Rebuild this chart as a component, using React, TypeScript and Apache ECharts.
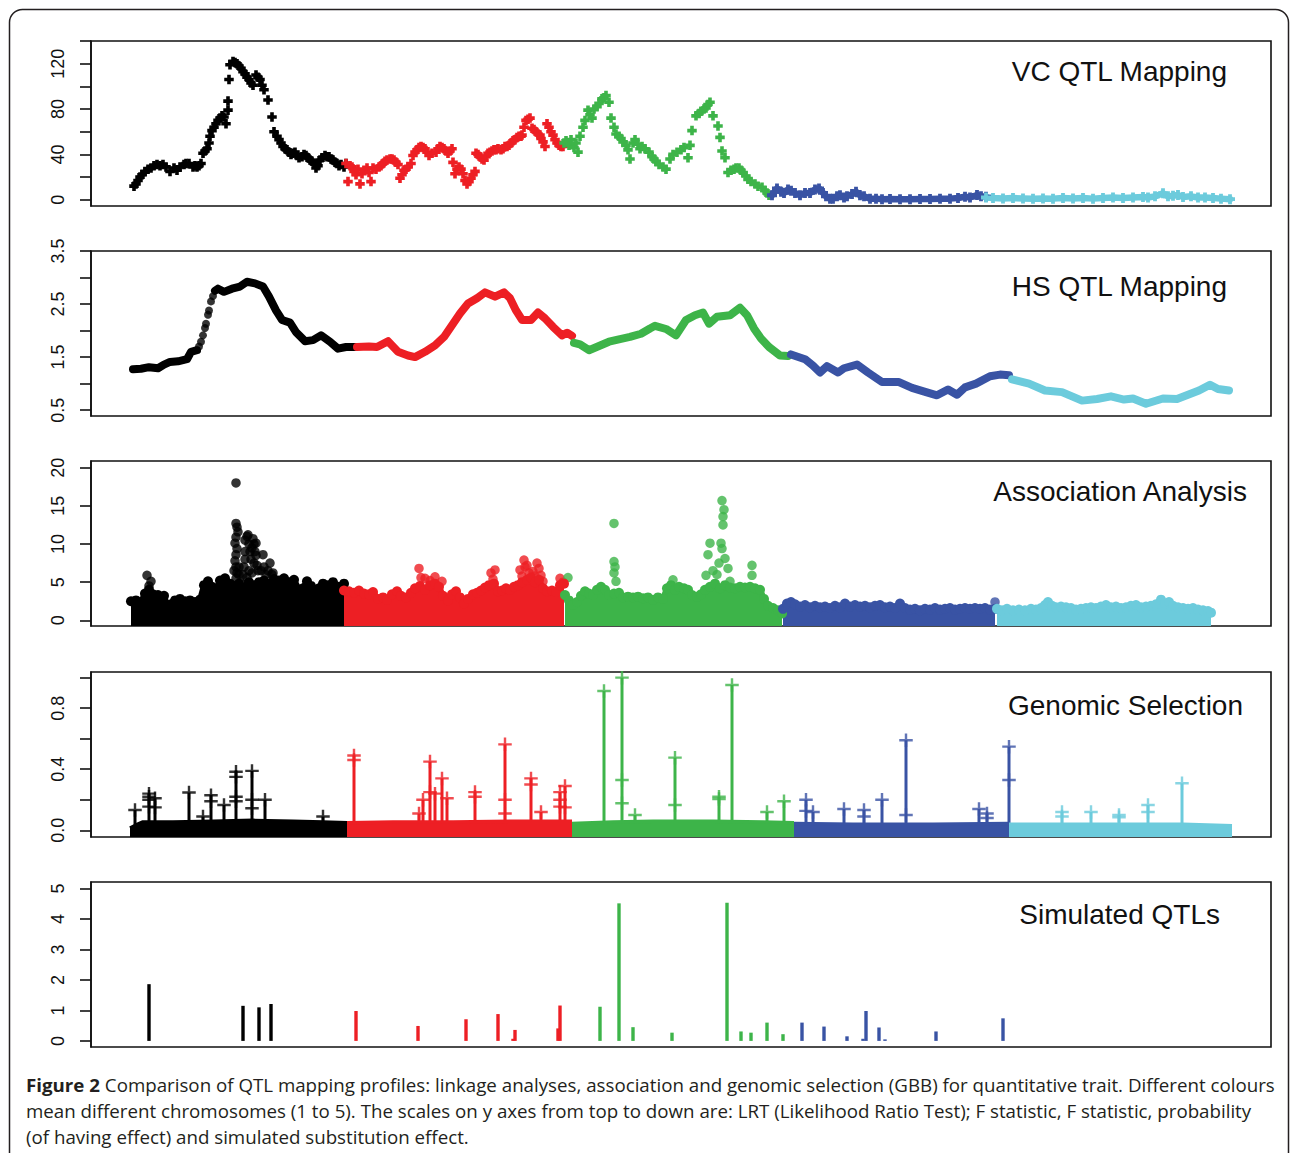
import React, { useEffect, useRef } from 'react';
import * as echarts from 'echarts';

// ---------- colours per chromosome ----------
const CHR_COLORS = ['#000000', '#ed1f24', '#3db449', '#3953a4', '#6ccbdc'];

// ---------- panel titles ----------
const PANEL_TITLES = ['VC QTL Mapping', 'HS QTL Mapping', 'Association Analysis', 'Genomic Selection', 'Simulated QTLs'];

// ---------- y-axis ticks / labels ----------
const Y_TICKS = [
  [0, 20, 40, 60, 80, 100, 120, 140],
  [0.5, 1, 1.5, 2, 2.5, 3, 3.5],
  [0, 5, 10, 15, 20],
  [0, 0.2, 0.4, 0.6, 0.8, 1.0],
  [0, 1, 2, 3, 4, 5],
];
const Y_LABELS = [
  [0, 40, 80, 120],
  [0.5, 1.5, 2.5, 3.5],
  [0, 5, 10, 15, 20],
  [0, 0.4, 0.8],
  [0, 1, 2, 3, 4, 5],
];
const Y_RANGES = [
  [-5.5, 140],
  [0.39, 3.5],
  [-0.75, 20.88],
  [-0.044, 1.037],
  [-0.2, 5.21],
];
const Y_DECIMALS = [0, 1, 0, 1, 0];

// ---------- VC QTL mapping (LRT), [position, LRT] ----------
const vcChr1 = [[1,12],[3,14],[5,17],[7,20],[9,22],[12,25],[15,27],[18,28],[21,30],[24,31],[27,30],[30,31],[33,29],[37,25],[41,28],[44,26],[47,29],[51,31],[53,32],[56,32],[60,29],[62,30],[64,29],[66,30],[68,32],[70,41],[72,43],[74,45],[76,50],[77,56],[79,61],[81,64],[83,67],[85,70],[87,72],[89,74],[91,73],[93,67],[95,79],[95,87],[96,106],[97,119],[100,122],[102,121],[104,120],[106,118],[108,116],[110,113],[112,111],[114,108],[116,106],[118,103],[120,101],[123,110],[125,108],[127,106],[129,101],[131,97],[135,88],[139,73],[141,60],[144,56],[146,53],[148,50],[150,47],[152,45],[154,44],[156,42],[158,40],[160,41],[162,42],[164,39],[166,37],[169,38],[171,40],[173,39],[175,37],[177,35],[179,34],[181,32],[183,28],[185,30],[187,35],[189,37],[192,39],[194,38],[196,38],[198,36],[200,35],[202,33],[204,32],[206,30],[208,31],[211,29],[213,32]];
const vcChr2 = [[213,32],[215,16],[217,30],[219,29],[221,25],[223,22],[225,27],[227,14],[229,23],[231,26],[234,28],[236,24],[238,16],[240,28],[243,27],[246,29],[248,30],[250,32],[252,34],[254,35],[257,36],[259,36],[261,35],[263,33],[265,31],[267,19],[269,22],[271,26],[273,27],[275,29],[278,32],[280,39],[282,42],[284,44],[286,46],[288,47],[290,46],[292,45],[294,42],[296,39],[299,41],[303,42],[305,45],[307,47],[309,46],[311,45],[313,43],[315,41],[317,43],[319,45],[320,33],[322,23],[324,27],[326,29],[328,27],[330,23],[332,17],[334,14],[336,16],[338,19],[340,22],[342,25],[343,41],[345,40],[347,38],[349,36],[351,35],[353,38],[355,41],[357,42],[359,43],[361,44],[363,44],[365,45],[368,44],[370,45],[372,47],[374,47],[376,48],[378,50],[380,52],[382,53],[384,55],[386,56],[388,56],[389,57],[391,64],[393,70],[395,71],[397,72],[399,63],[401,62],[403,60],[405,58],[407,57],[408,54],[410,51],[412,47],[414,67],[416,64],[418,60],[420,57],[422,53],[424,50],[426,48],[428,47],[430,47]];
const vcChr3 = [[431,50],[433,52],[436,48],[438,53],[441,46],[443,50],[445,42],[447,56],[450,64],[452,70],[455,79],[457,75],[459,72],[461,80],[464,82],[466,85],[469,89],[471,90],[473,92],[476,86],[478,72],[481,64],[483,58],[486,56],[488,54],[490,51],[493,48],[495,44],[497,36],[500,50],[502,53],[505,49],[507,45],[509,47],[512,45],[516,42],[519,38],[521,36],[523,34],[526,31],[530,29],[533,27],[537,36],[540,40],[544,42],[548,44],[551,46],[555,37],[557,48],[559,61],[563,74],[566,76],[568,78],[571,80],[573,81],[575,84],[577,86],[580,74],[585,65],[587,55],[589,43],[592,37],[595,24],[598,26],[601,27],[603,28],[606,28],[608,26],[610,24],[613,21],[615,18],[618,16],[622,14],[625,12],[629,11],[632,8],[634,6],[636,4]];
const vcChr4 = [[639,4],[644,10],[648,7],[651,6],[655,9],[658,8],[662,6],[667,4],[672,6],[677,6],[682,9],[686,10],[690,6],[693,3],[697,1],[700,1],[704,3],[707,4],[711,2],[714,3],[719,5],[723,7],[727,4],[731,3],[737,1],[743,1],[749,0.5],[757,0.6],[767,0.5],[777,0.5],[787,0.6],[797,0.6],[807,0.8],[817,1],[825,1.5],[832,2.7],[837,2],[844,4.2],[848,3],[853,2.7]];
const vcChr5 = [[853,2],[860,1.5],[870,1.2],[880,1.5],[890,1.2],[900,1],[910,1.2],[920,1],[930,1.5],[940,1.2],[950,1.5],[960,1],[970,1.5],[980,2],[990,1.5],[1000,2],[1010,2.5],[1015,2],[1022,3],[1030,5.7],[1035,3],[1040,3.5],[1045,4.2],[1050,2.5],[1058,3],[1065,2],[1072,2],[1080,1.5],[1088,1],[1097,0.5]];

// ---------- HS QTL mapping (F statistic) ----------
const hsChr1a = [[0,1.27],[8,1.28],[16,1.31],[25,1.29],[31,1.36],[37,1.41],[45,1.42],[54,1.46],[58,1.6],[64,1.63]];
const hsChr1Dots = [[66,1.7],[68,1.79],[70,1.91],[72,2.05],[73,2.13],[75,2.3],[76,2.38],[78,2.55],[80,2.65]];
const hsChr1b = [[82,2.75],[85,2.79],[91,2.73],[99,2.79],[107,2.83],[114,2.92],[122,2.89],[130,2.83],[136,2.64],[143,2.38],[149,2.2],[157,2.15],[163,1.97],[172,1.8],[180,1.82],[188,1.91],[197,1.79],[205,1.66],[213,1.69],[222,1.69]];
const hsChr2 = [[224,1.69],[236,1.7],[244,1.69],[255,1.8],[265,1.6],[275,1.53],[282,1.5],[292,1.6],[302,1.72],[311,1.88],[319,2.1],[327,2.32],[335,2.51],[344,2.61],[352,2.72],[362,2.64],[371,2.72],[377,2.61],[383,2.38],[389,2.2],[398,2.2],[405,2.34],[412,2.23],[420,2.07],[429,1.91],[434,1.96],[439,1.9]];
const hsChr3 = [[441,1.77],[447,1.74],[456,1.63],[466,1.71],[476,1.79],[487,1.84],[497,1.88],[508,1.94],[517,2.04],[522,2.09],[533,2.03],[543,1.91],[553,2.2],[562,2.29],[570,2.34],[576,2.13],[584,2.26],[597,2.29],[607,2.43],[614,2.29],[621,2.04],[628,1.85],[636,1.69],[647,1.53],[655,1.52]];
const hsChr4 = [[658,1.55],[672,1.46],[680,1.34],[687,1.21],[694,1.33],[705,1.21],[711,1.29],[724,1.36],[735,1.21],[749,1.03],[766,1.03],[779,0.92],[793,0.84],[804,0.78],[815,0.89],[824,0.79],[832,0.93],[843,1.0],[857,1.14],[867,1.17],[876,1.16]];
const hsChr5 = [[879,1.08],[896,1.0],[912,0.87],[929,0.84],[949,0.68],[964,0.71],[978,0.76],[991,0.7],[1000,0.72],[1013,0.62],[1030,0.72],[1044,0.71],[1066,0.87],[1077,0.98],[1085,0.9],[1096,0.87]];

// ---------- Association analysis (F statistic) ----------
// upper envelope of the dense marker cloud, per chromosome
const asEnv1 = [[-2,2.5],[3,2.6],[8,2.4],[12,3.5],[16,4.0],[20,3.4],[25,3.3],[31,3.2],[34,2.0],[38,2.1],[42,2.6],[47,2.8],[52,2.5],[57,2.6],[62,2.4],[67,2.7],[71,4.6],[75,5.1],[79,4.4],[83,4.0],[87,5.2],[92,5.5],[97,4.8],[101,4.5],[106,4.8],[111,4.2],[116,5.0],[121,4.6],[126,5.0],[131,5.2],[136,4.8],[141,5.4],[146,5.2],[151,5.5],[156,5.0],[161,5.3],[166,4.0],[170,4.2],[174,5.1],[178,4.5],[182,3.6],[186,4.2],[190,4.8],[195,4.6],[200,5.0],[205,4.4],[211,4.8]];
const asEnv2 = [[211,3.9],[216,3.8],[221,3.6],[226,3.9],[231,3.5],[236,3.4],[240,3.7],[245,2.8],[250,3.0],[254,2.7],[259,3.4],[264,3.8],[268,3.2],[273,3.0],[278,3.6],[282,4.2],[287,4.5],[292,4.0],[297,4.6],[302,4.8],[306,4.4],[310,3.2],[315,2.6],[319,3.4],[323,3.8],[327,3.0],[331,2.2],[335,2.8],[340,3.4],[344,3.6],[348,3.9],[352,4.3],[356,4.6],[361,4.8],[365,3.8],[369,3.9],[373,4.2],[377,4.0],[381,4.4],[385,4.6],[389,5.0],[394,5.3],[398,5.6],[402,5.0],[406,5.3],[410,4.2],[414,3.8],[419,3.9],[423,3.7],[427,4.6],[431,4.8]];
const asEnv3 = [[432,3.3],[436,2.6],[440,2.0],[444,2.4],[448,3.2],[452,3.8],[456,3.5],[460,3.3],[464,4.0],[468,4.4],[472,4.0],[476,3.3],[481,3.5],[486,3.6],[490,3.0],[495,3.1],[500,3.0],[505,3.1],[510,2.9],[515,3.0],[520,2.7],[525,3.0],[530,2.8],[534,4.2],[538,4.6],[542,4.0],[546,4.4],[551,4.2],[555,4.0],[559,3.3],[564,3.1],[568,3.4],[572,4.0],[577,4.4],[582,4.8],[587,4.2],[592,4.6],[597,4.3],[602,4.2],[607,4.4],[612,4.3],[617,4.4],[622,4.2],[627,4.0],[631,2.8],[635,1.9],[640,1.6],[645,1.3],[649,0.9]];
const asEnv4 = [[650,1.5],[654,2.2],[658,2.4],[662,2.1],[667,1.8],[672,2.0],[677,1.7],[682,1.9],[687,1.7],[692,1.8],[697,1.6],[702,1.9],[707,1.7],[712,2.2],[717,1.8],[722,2.0],[727,1.8],[732,1.9],[737,1.7],[742,1.9],[747,2.0],[752,1.7],[757,1.8],[762,1.6],[767,2.2],[772,1.6],[777,1.4],[782,1.5],[787,1.3],[792,1.5],[797,1.4],[802,1.6],[807,1.4],[812,1.5],[817,1.6],[822,1.4],[827,1.5],[832,1.6],[837,1.5],[842,1.6],[847,1.5],[852,1.6],[857,1.4],[862,1.5]];
const asEnv5 = [[864,1.5],[869,1.3],[874,1.5],[880,1.3],[886,1.4],[892,1.3],[898,1.5],[903,1.4],[908,1.6],[912,2.0],[915,2.4],[919,1.9],[923,1.7],[928,1.8],[933,1.7],[938,1.6],[943,1.4],[948,1.5],[953,1.6],[958,1.7],[963,1.6],[968,1.8],[973,2.0],[978,1.7],[983,1.8],[988,1.6],[993,1.7],[998,1.9],[1003,2.0],[1008,1.7],[1013,1.8],[1018,1.9],[1023,2.1],[1028,2.7],[1032,2.2],[1036,2.4],[1040,1.9],[1045,1.7],[1050,1.6],[1055,1.5],[1060,1.6],[1065,1.4],[1070,1.3],[1075,1.2],[1078,1.0]];
// markers standing out above the cloud
const asTop1 = [[14,5.9],[18,5.1],[16,4.5],[103,18],[103,12.7],[104,12.2],[105,11.6],[103,10.9],[102,10.1],[104,9.4],[103,8.6],[102,7.8],[103,7.0],[104,6.2],[103,5.5],[101,6.5],[106,6.0],[106,7.0],[108,4.9],[110,6.0],[111,7.0],[112,8.0],[112,9.0],[112,10.5],[114,11.0],[115,11.2],[116,10.0],[117,9.0],[118,8.0],[119,9.5],[120,10.7],[121,10.0],[122,9.0],[123,10.1],[123,8.5],[124,7.2],[125,6.5],[116,6.5],[119,6.2],[121,7.5],[114,5.6],[128,6.5],[130,8.6],[131,7.0],[133,6.0],[135,6.5],[137,7.5],[139,6.0],[140,6.2]];
const asTop2 = [[286,6.8],[288,5.6],[292,5.5],[297,5.2],[302,5.7],[309,5.1],[358,6.2],[360,5.4],[362,6.6],[387,6.6],[389,5.8],[391,7.9],[392,7.0],[394,7.2],[396,6.2],[400,6.4],[402,5.8],[404,7.5],[406,6.8],[408,5.9],[410,5.1],[427,5.5],[430,5.0]];
const asTop3 = [[435,5.6],[481,12.7],[481,7.7],[482,7.0],[481,6.2],[483,5.1],[540,5.3],[573,5.9],[575,8.6],[577,10.1],[580,6.5],[584,6.0],[586,7.5],[588,10.1],[589,9.4],[590,12.5],[590,13.6],[591,14.5],[589,15.7],[592,8.1],[595,6.8],[597,5.1],[619,7.2],[619,5.9]];
const asTop4 = [[862,2.4]];
const asTop5: number[][] = [];

// ---------- Genomic selection (probability) ----------
const gsBand1 = [[-3,0.015],[3,0.035],[10,0.055],[40,0.055],[80,0.06],[120,0.065],[160,0.06],[190,0.055],[214,0.05]];
const gsBand2 = [[214,0.05],[260,0.055],[320,0.055],[380,0.06],[439,0.06]];
const gsBand3 = [[439,0.045],[480,0.055],[520,0.06],[580,0.06],[630,0.055],[661,0.05]];
const gsBand4 = [[661,0.045],[720,0.04],[800,0.04],[876,0.045]];
const gsBand5 = [[876,0.04],[950,0.04],[1050,0.04],[1099,0.03]];
const gsStem1 = [[2,0.133],[16,0.24],[22,0.21],[56,0.247],[70,0.09],[78,0.23],[91,0.166],[103,0.389],[119,0.389],[132,0.2],[190,0.09]];
const gsStem2 = [[221,0.49],[286,0.11],[290,0.2],[297,0.45],[302,0.25],[309,0.34],[314,0.21],[342,0.25],[372,0.563],[398,0.34],[408,0.12],[427,0.25],[432,0.29]];
const gsStem3 = [[471,0.912],[489,1.0],[502,0.1],[542,0.476],[586,0.22],[599,0.952],[634,0.12],[651,0.19]];
const gsStem4 = [[673,0.2],[680,0.12],[711,0.14],[731,0.133],[749,0.2],[773,0.59],[846,0.14],[854,0.11],[876,0.548]];
const gsStem5 = [[929,0.12],[958,0.12],[986,0.1],[1015,0.166],[1049,0.308]];
const gsPlus1 = [[2,0.133],[16,0.24],[16,0.22],[16,0.2],[16,0.155],[22,0.21],[22,0.15],[56,0.247],[70,0.09],[78,0.23],[78,0.19],[91,0.166],[103,0.384],[103,0.35],[103,0.22],[103,0.19],[119,0.389],[119,0.2],[119,0.144],[132,0.2],[190,0.09]];
const gsPlus2 = [[221,0.49],[221,0.46],[286,0.11],[290,0.2],[297,0.45],[297,0.25],[302,0.24],[309,0.34],[314,0.21],[342,0.25],[342,0.22],[372,0.563],[372,0.2],[372,0.11],[398,0.34],[398,0.3],[408,0.12],[427,0.25],[427,0.2],[427,0.155],[432,0.29],[432,0.15]];
const gsPlus3 = [[471,0.912],[489,1.0],[489,0.33],[489,0.177],[502,0.1],[542,0.476],[542,0.166],[586,0.22],[586,0.205],[599,0.952],[634,0.12],[651,0.19]];
const gsPlus4 = [[673,0.2],[673,0.127],[680,0.12],[711,0.14],[731,0.133],[731,0.09],[749,0.2],[773,0.59],[773,0.1],[846,0.14],[854,0.11],[854,0.08],[876,0.548],[876,0.33]];
const gsPlus5 = [[929,0.12],[929,0.09],[958,0.12],[986,0.1],[986,0.085],[1015,0.166],[1015,0.12],[1049,0.308]];

// ---------- Simulated QTLs (substitution effect) ----------
const simChr1 = [[16,1.86],[110,1.15],[126,1.1],[138,1.21]];
const simChr2 = [[223,0.98],[285,0.49],[333,0.71],[365,0.88],[380,0.07],[382,0.36],[425,0.41],[427,1.16]];
const simChr3 = [[467,1.12],[486,4.51],[500,0.45],[539,0.27],[594,4.53],[608,0.31],[618,0.27],[634,0.6],[650,0.22]];
const simChr4 = [[669,0.6],[691,0.47],[714,0.15],[730,0.07],[733,0.98],[746,0.44],[752,0.05],[803,0.31],[870,0.74]];

// ---------- caption ----------
const CAPTION_BOLD = 'Figure 2';
const CAPTION_L1 = ' Comparison of QTL mapping profiles: linkage analyses, association and genomic selection (GBB) for quantitative trait. Different colours';
const CAPTION_L2 = 'mean different chromosomes (1 to 5). The scales on y axes from top to down are: LRT (Likelihood Ratio Test); F statistic, F statistic, probability';
const CAPTION_L3 = '(of having effect) and simulated substitution effect.';

// ---------- layout ----------
const W = 1290;
const H = 1153;
const GRID_LEFT = 91;
const GRID_WIDTH = 1180;
const GRID_TOPS = [41, 251, 461, 672, 882];
const GRID_HEIGHT = 165;
const X_MIN = -42;
const X_MAX = 1138;
const TITLE_RIGHT = [1227, 1227, 1247, 1243, 1220];
const TITLE_Y = [71, 286, 491, 705, 914];
const SANS = 'Liberation Sans';

const PLUS_BOLD = 'path://M3.1,0H6.9V3.1H10V6.9H6.9V10H3.1V6.9H0V3.1H3.1Z';
const PLUS_THIN = 'path://M4.1,0H5.9V4.1H10V5.9H5.9V10H4.1V5.9H0V4.1H4.1Z';

function measure(font: string, text: string): number {
  const c = document.createElement('canvas');
  const ctx = c.getContext('2d');
  if (!ctx) return text.length * 9;
  ctx.font = font;
  return ctx.measureText(text).width;
}

function stemSeries(data: number[][], color: string, width: number, gi: number) {
  return {
    type: 'custom',
    xAxisIndex: gi,
    yAxisIndex: gi,
    silent: true,
    encode: { x: 0, y: 1 },
    data,
    renderItem: (_params: any, api: any) => {
      const x = api.value(0);
      const y = api.value(1);
      const a = api.coord([x, 0]);
      const b = api.coord([x, y]);
      return {
        type: 'line',
        shape: { x1: a[0], y1: a[1], x2: b[0], y2: b[1] },
        style: { stroke: color, lineWidth: width, lineCap: 'butt' },
      };
    },
  };
}

export default function App() {
  const ref = useRef<HTMLDivElement>(null);

  useEffect(() => {
    if (!ref.current) return;
    const chart = echarts.init(ref.current, undefined, { renderer: 'svg' });

    const grid = GRID_TOPS.map((t) => ({
      left: GRID_LEFT,
      width: GRID_WIDTH,
      top: t,
      height: GRID_HEIGHT,
      show: true,
      borderColor: '#111',
      borderWidth: 1.6,
      backgroundColor: 'transparent',
      containLabel: false,
      outerBoundsMode: 'none',
    }));

    const xAxis = GRID_TOPS.map((_, i) => ({
      type: 'value',
      gridIndex: i,
      min: X_MIN,
      max: X_MAX,
      show: false,
    }));

    const yAxis = GRID_TOPS.map((_, i) => ({
      type: 'value',
      gridIndex: i,
      min: Y_RANGES[i][0],
      max: Y_RANGES[i][1],
      axisLine: { show: true, onZero: false, lineStyle: { color: '#111', width: 1.6 } },
      axisTick: { show: true, length: 11, customValues: Y_TICKS[i], lineStyle: { color: '#111', width: 1.6 } },
      axisLabel: {
        show: true,
        customValues: Y_LABELS[i],
        rotate: 90,
        margin: 24,
        fontSize: 18,
        fontFamily: SANS,
        color: '#111',
        formatter: (v: number) => v.toFixed(Y_DECIMALS[i]),
      },
      splitLine: { show: false },
    }));

    const series: any[] = [];
    // Panel 1: VC QTL mapping
    [vcChr1, vcChr2, vcChr3].forEach((d, c) => {
      series.push({
        type: 'scatter', xAxisIndex: 0, yAxisIndex: 0, data: d, silent: true,
        symbol: PLUS_BOLD, symbolSize: 9.5, itemStyle: { color: CHR_COLORS[c], opacity: 1 },
      });
    });
    [vcChr4, vcChr5].forEach((d, k) => {
      const c = k + 3;
      series.push({
        type: 'line', xAxisIndex: 0, yAxisIndex: 0, data: d, silent: true,
        symbol: PLUS_BOLD, symbolSize: 10, showSymbol: true, showAllSymbol: true,
        lineStyle: { color: CHR_COLORS[c], width: 6.5, join: 'round', cap: 'round' },
        itemStyle: { color: CHR_COLORS[c] },
      });
    });

    // Panel 2: HS QTL mapping
    const hsLine = (d: number[][], c: number) => ({
      type: 'line', xAxisIndex: 1, yAxisIndex: 1, data: d, silent: true, symbol: 'none',
      lineStyle: { color: CHR_COLORS[c], width: 8, cap: 'round', join: 'round' },
    });
    series.push(hsLine(hsChr1a, 0));
    series.push({
      type: 'scatter', xAxisIndex: 1, yAxisIndex: 1, data: hsChr1Dots, silent: true,
      symbol: 'circle', symbolSize: 8, itemStyle: { color: CHR_COLORS[0] },
    });
    series.push(hsLine(hsChr1b, 0));
    [hsChr2, hsChr3, hsChr4, hsChr5].forEach((d, k) => series.push(hsLine(d, k + 1)));

    // Panel 3: association analysis
    [asEnv1, asEnv2, asEnv3, asEnv4, asEnv5].forEach((d, c) => {
      series.push({
        type: 'line', xAxisIndex: 2, yAxisIndex: 2, data: d, silent: true,
        symbol: 'circle', symbolSize: 10, showSymbol: true, showAllSymbol: true,
        itemStyle: { color: CHR_COLORS[c] },
        lineStyle: { color: CHR_COLORS[c], width: 6, cap: 'round', join: 'round' },
        areaStyle: { color: CHR_COLORS[c], opacity: 1, origin: 'start' },
      });
    });
    [asTop1, asTop2, asTop3, asTop4, asTop5].forEach((d, c) => {
      series.push({
        type: 'scatter', xAxisIndex: 2, yAxisIndex: 2, data: d, silent: true,
        symbol: 'circle', symbolSize: 9.5, itemStyle: { color: CHR_COLORS[c] },
      });
    });

    // Panel 4: genomic selection
    [gsBand1, gsBand2, gsBand3, gsBand4, gsBand5].forEach((d, c) => {
      series.push({
        type: 'line', xAxisIndex: 3, yAxisIndex: 3, data: d, silent: true, symbol: 'none',
        lineStyle: { color: CHR_COLORS[c], width: 3.5, join: 'round' },
        areaStyle: { color: CHR_COLORS[c], opacity: 1, origin: 'start' },
      });
    });
    [gsStem1, gsStem2, gsStem3, gsStem4, gsStem5].forEach((d, c) => {
      series.push(stemSeries(d, CHR_COLORS[c], 3, 3));
    });
    [gsPlus1, gsPlus2, gsPlus3, gsPlus4, gsPlus5].forEach((d, c) => {
      series.push({
        type: 'scatter', xAxisIndex: 3, yAxisIndex: 3, data: d, silent: true,
        symbol: PLUS_THIN, symbolSize: 13.5, itemStyle: { color: CHR_COLORS[c] },
      });
    });

    // Panel 5: simulated QTLs
    [simChr1, simChr2, simChr3, simChr4].forEach((d, c) => {
      series.push(stemSeries(d, CHR_COLORS[c], 3.4, 4));
    });

    // caption measurements (horizontal fit to the caption block width)
    const capFont = '"Open Sans"';
    const capSize = 18;
    const wBold = measure(`bold ${capSize}px ${capFont}`, CAPTION_BOLD);
    const wL1 = measure(`${capSize}px ${capFont}`, CAPTION_L1);
    const wL2 = measure(`${capSize}px ${capFont}`, CAPTION_L2);
    const s1 = (1275 - 26) / (wBold + wL1);
    const s2 = (1251 - 26) / wL2;
    const capStyle = (text: string, bold: boolean) => ({
      text,
      fontSize: capSize,
      fontFamily: 'Open Sans',
      fontWeight: bold ? 'bold' : 'normal',
      fill: '#231f20',
      align: 'left',
      verticalAlign: 'middle',
      textAlign: 'left',
      textVerticalAlign: 'middle',
    });

    const graphic: any[] = [
      {
        type: 'rect', silent: true, z: -10,
        shape: { x: 9.5, y: 9.5, width: 1279, height: 1260, r: 13 },
        style: { fill: 'none', stroke: '#231f20', lineWidth: 1.5 },
      },
      ...PANEL_TITLES.map((t, i) => ({
        type: 'text', silent: true, x: TITLE_RIGHT[i], y: TITLE_Y[i],
        style: {
          text: t, fontSize: 28, fontFamily: SANS, fill: '#111',
          align: 'right', verticalAlign: 'middle', textAlign: 'right', textVerticalAlign: 'middle',
        },
      })),
      { type: 'text', silent: true, x: 26, y: 1085, scaleX: s1, style: capStyle(CAPTION_BOLD, true) },
      { type: 'text', silent: true, x: 26 + wBold * s1, y: 1085, scaleX: s1, style: capStyle(CAPTION_L1, false) },
      { type: 'text', silent: true, x: 26, y: 1111, scaleX: s2, style: capStyle(CAPTION_L2, false) },
      { type: 'text', silent: true, x: 26, y: 1137, scaleX: s2, style: capStyle(CAPTION_L3, false) },
    ];

    chart.setOption({
      animation: false,
      backgroundColor: '#ffffff',
      grid,
      xAxis,
      yAxis,
      series,
      graphic,
    });

    return () => chart.dispose();
  }, []);

  return (
    <div
      ref={ref}
      style={{ position: 'absolute', left: 0, top: 0, width: W, height: H, background: '#fff' }}
    />
  );
}
